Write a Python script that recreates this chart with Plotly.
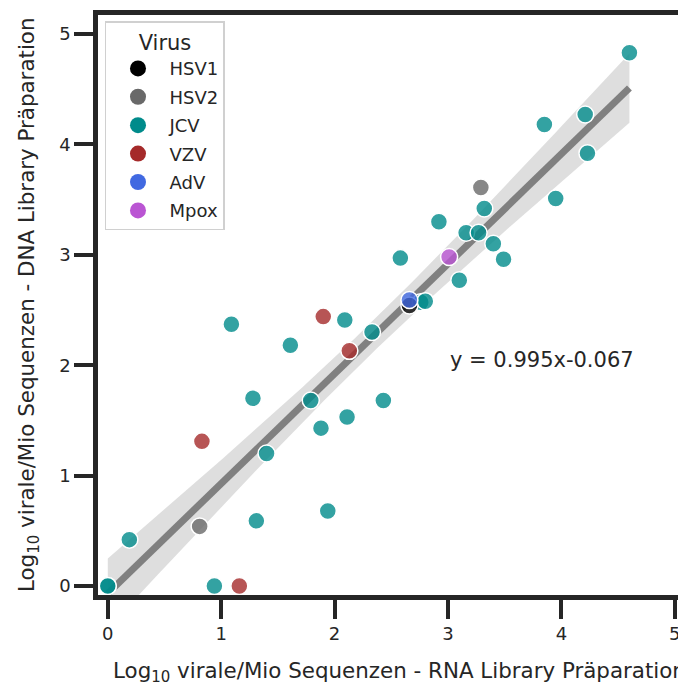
import numpy as np
import plotly.graph_objects as go

# ---- data ----
viruses = ["HSV1", "HSV2", "JCV", "VZV", "AdV", "Mpox"]
colors = {"HSV1": "#000000", "HSV2": "#696969", "JCV": "#008b8b",
          "VZV": "#a52a2a", "AdV": "#4169e1", "Mpox": "#ba55d3"}

jcv_rna = [0.0, 0.0, 0.19, 0.94, 1.09, 1.28, 1.31, 1.40, 1.61, 1.79, 1.88, 1.94,
           2.09, 2.11, 2.33, 2.43, 2.58, 2.76, 2.80, 2.92, 3.10, 3.16, 3.27,
           3.32, 3.40, 3.49, 3.85, 3.95, 4.21, 4.23, 4.60]
jcv_dna = [0.0, 0.0, 0.42, 0.0, 2.37, 1.70, 0.59, 1.20, 2.18, 1.68, 1.43, 0.68,
           2.41, 1.53, 2.30, 1.68, 2.97, 2.57, 2.58, 3.30, 2.77, 3.20, 3.20,
           3.42, 3.10, 2.96, 4.18, 3.51, 4.27, 3.92, 4.83]
hsv1_rna = [2.66]
hsv1_dna = [2.54]
hsv2_rna = [0.81, 3.29]
hsv2_dna = [0.54, 3.61]
vzv_rna = [0.83, 1.16, 1.90, 2.13]
vzv_dna = [1.31, 0.0, 2.44, 2.13]
adv_rna = [2.66]
adv_dna = [2.59]
mpox_rna = [3.01]
mpox_dna = [2.98]

slope = 0.995
intercept = -0.067
eq_text = "y = 0.995x-0.067"
x_title = "Log<sub>10</sub> virale/Mio Sequenzen - RNA Library Präparation"
y_title = "Log<sub>10</sub> virale/Mio Sequenzen - DNA Library Präparation"
tick_vals = [0, 1, 2, 3, 4, 5]

series = {
    "HSV1": (hsv1_rna, hsv1_dna),
    "HSV2": (hsv2_rna, hsv2_dna),
    "JCV": (jcv_rna, jcv_dna),
    "VZV": (vzv_rna, vzv_dna),
    "AdV": (adv_rna, adv_dna),
    "Mpox": (mpox_rna, mpox_dna),
}

# all points for regression band
all_x = np.array(sum([list(v[0]) for v in series.values()], []))
all_y = np.array(sum([list(v[1]) for v in series.values()], []))
n = len(all_x)
xbar = all_x.mean()
sxx = ((all_x - xbar) ** 2).sum()
resid = all_y - (slope * all_x + intercept)
s = np.sqrt((resid ** 2).sum() / (n - 2))
xs = np.linspace(all_x.min(), all_x.max(), 100)
ys = slope * xs + intercept
half = 1.8 * s * np.sqrt(1.0 / n + (xs - xbar) ** 2 / sxx)

def hex_rgba(h, a):
    h = h.lstrip("#")
    r, g, b = int(h[0:2], 16), int(h[2:4], 16), int(h[4:6], 16)
    return f"rgba({r},{g},{b},{a})"

fig = go.Figure()
# CI band
fig.add_trace(go.Scatter(x=np.concatenate([xs, xs[::-1]]),
                         y=np.concatenate([ys + half, (ys - half)[::-1]]),
                         fill="toself", fillcolor="rgba(200,200,200,0.6)",
                         line=dict(width=0), mode="lines", showlegend=False,
                         hoverinfo="skip"))
# regression line
fig.add_trace(go.Scatter(x=xs, y=ys, mode="lines",
                         line=dict(color="#808080", width=7), showlegend=False))

draw_order = ["JCV", "HSV2", "VZV", "HSV1", "AdV", "Mpox"]
for v in draw_order:
    xr, yr = series[v]
    fig.add_trace(go.Scatter(x=xr, y=yr, mode="markers", showlegend=False,
                             marker=dict(size=17, color=hex_rgba(colors[v], 0.8),
                                         line=dict(color="white", width=1.5))))
# legend entries
for i, v in enumerate(viruses):
    fig.add_trace(go.Scatter(x=[None], y=[None], mode="markers", name=v,
                             legendgroup=v,
                             marker=dict(size=22, color=colors[v])))

fig.add_annotation(x=3.0, y=2.05, xref="x", yref="y", text=eq_text,
                   showarrow=False, xanchor="left", yanchor="middle",
                   font=dict(size=21, color="#262626"))
fig.add_annotation(x=0.512, y=-0.1328, xref="paper", yref="paper", text=x_title,
                   showarrow=False, xanchor="center", yanchor="middle",
                   font=dict(size=21.4, color="#262626"))
fig.add_annotation(x=-0.119, y=0.5, xref="paper", yref="paper", text=y_title,
                   showarrow=False, xanchor="center", yanchor="middle", textangle=-90,
                   font=dict(size=21.4, color="#262626"))

axis_common = dict(showline=True, linewidth=4.5, linecolor="#262626",
                   ticks="outside", ticklen=19, tickwidth=4, tickcolor="#262626",
                   showgrid=False, zeroline=False, tickvals=tick_vals,
                   automargin=False,
                   tickfont=dict(size=18, color="#262626"))

fig.update_layout(
    width=678, height=679,
    margin=dict(l=90, r=0, t=7, b=92),
    paper_bgcolor="white", plot_bgcolor="white",
    font=dict(family="DejaVu Sans", color="#262626"),
    xaxis=dict(range=[-0.0864, 5.099], mirror=True, **axis_common),
    yaxis=dict(range=[-0.0815, 5.172], mirror=False, **axis_common),
    legend=dict(x=0.0119, y=0.989, xanchor="left", yanchor="top",
                bgcolor="rgba(255,255,255,0.8)", bordercolor="#d0d0d0", borderwidth=1.5,
                font=dict(size=18, color="#262626"),
                title=dict(text="Virus", side="top center", font=dict(size=21)),
                tracegroupgap=2, itemsizing="trace", itemwidth=53),
    showlegend=True,
)

fig.write_html("out.html")
